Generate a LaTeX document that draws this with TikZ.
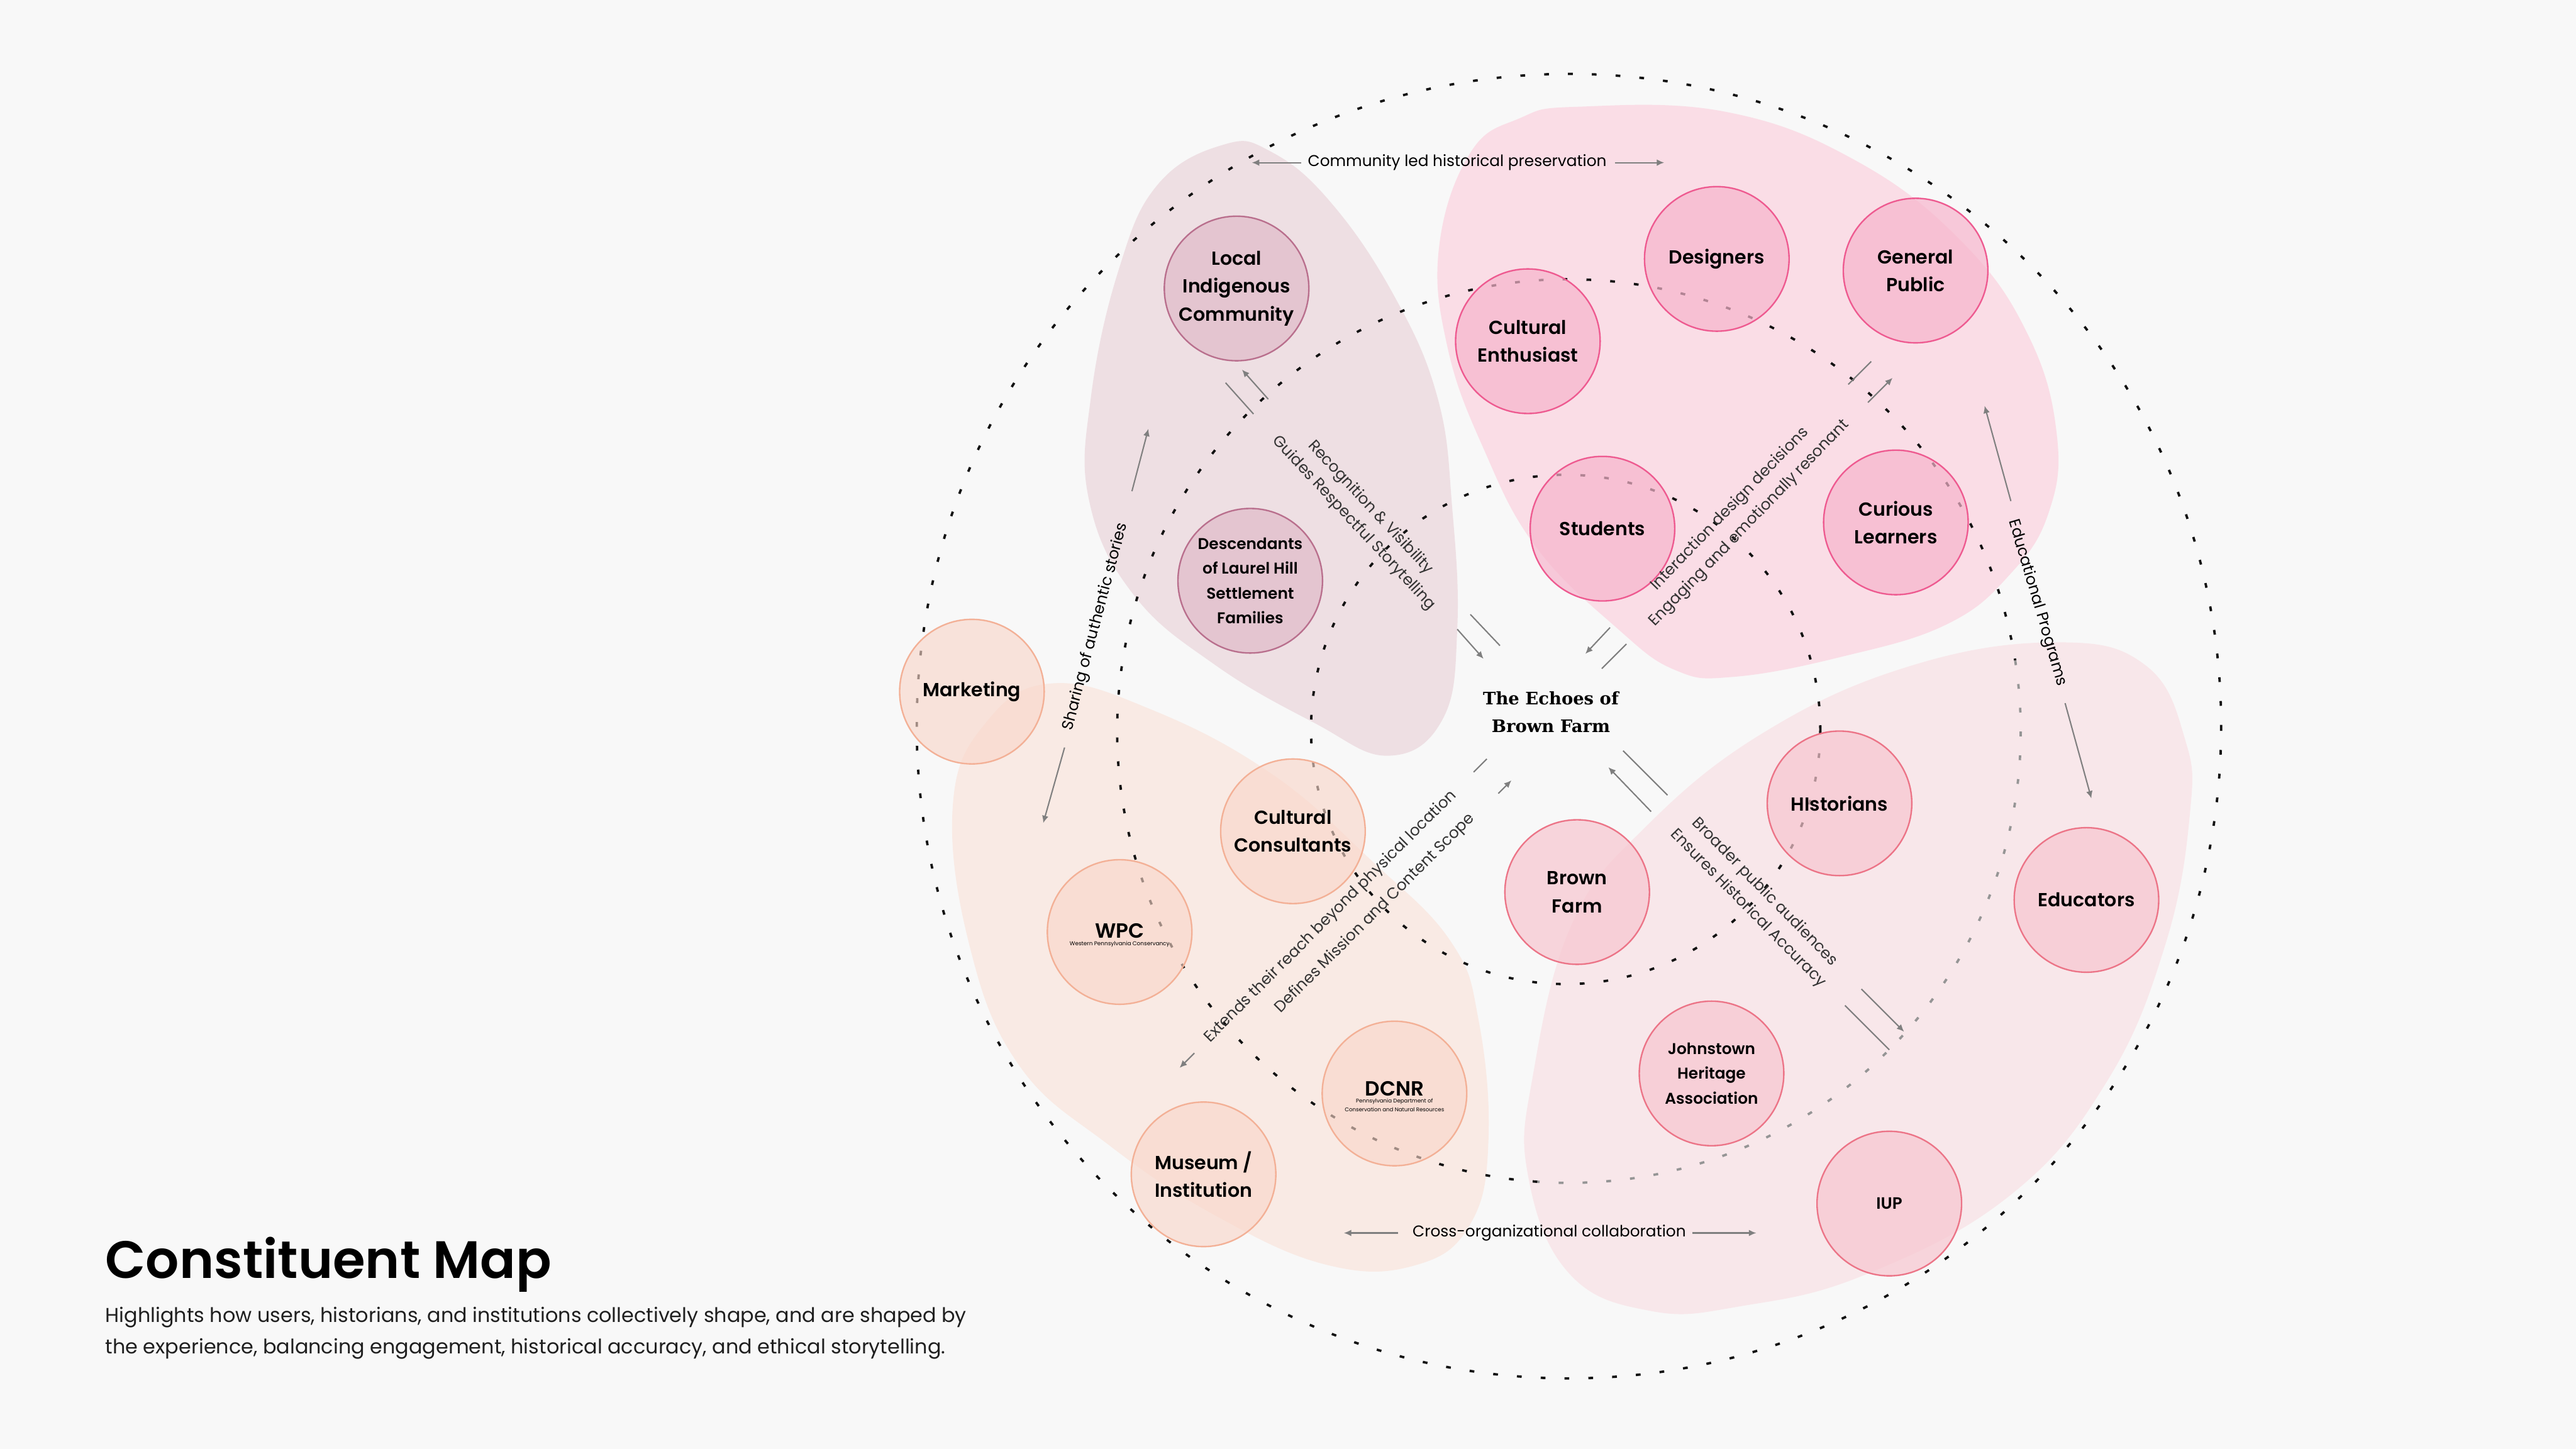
\documentclass[tikz,border=0pt]{standalone}
\usepackage{fontspec}
\setmainfont{Poppins}[BoldFont={Poppins SemiBold}]
\newfontfamily\echofont{DejaVu Serif}
\usetikzlibrary{arrows.meta}
\definecolor{bg}{HTML}{F8F8F8}
\definecolor{blobMauve}{HTML}{EEDFE3}
\definecolor{blobPink}{HTML}{FADDE6}
\definecolor{blobPeach}{HTML}{F9EAE4}
\definecolor{blobRose}{HTML}{F8E7EA}
\definecolor{mauveFill}{HTML}{E1BBC8}
\definecolor{mauveDraw}{HTML}{B96F8D}
\definecolor{pinkFill}{HTML}{F7B5CC}
\definecolor{pinkDraw}{HTML}{EE5A90}
\definecolor{peachFill}{HTML}{F9D6C9}
\definecolor{peachDraw}{HTML}{F3B096}
\definecolor{roseFill}{HTML}{F7C6CF}
\definecolor{roseDraw}{HTML}{EC7487}
\definecolor{arrowGray}{HTML}{7F7F7F}
\definecolor{labelGray}{HTML}{333333}
\definecolor{dotBlack}{HTML}{111111}
\definecolor{dotGray}{HTML}{959595}
\tikzset{
  dotring/.style={draw=dotBlack, line width=1.45pt, dash pattern=on 2.9pt off 11.6pt},
  dotringgray/.style={dotring, draw=dotGray},
  cnode/.style={circle, minimum size=88pt, inner sep=0pt, line width=0.9pt, fill opacity=0.7, draw opacity=1, text opacity=1, align=center, text=black, font=\fontsize{11.5}{17}\selectfont\bfseries},
  mauvec/.style={cnode, fill=mauveFill, draw=mauveDraw},
  pinkc/.style={cnode, fill=pinkFill, draw=pinkDraw},
  peachc/.style={cnode, fill=peachFill, draw=peachDraw, fill opacity=0.62},
  rosec/.style={cnode, fill=roseFill, draw=roseDraw},
  smalltext/.style={font=\fontsize{9.5}{15}\selectfont\bfseries},
  elabel/.style={inner sep=0pt, text=labelGray, font=\fontsize{9.5}{11}\selectfont},
  conn/.style={draw=arrowGray, line width=0.8pt},
  arr/.style={conn, -{Latex[length=4.5pt,width=4pt]}},
}
\begin{document}
\begin{tikzpicture}[x=1pt,y=-1pt]
\fill[bg] (0,0) rectangle (1568,882);
\useasboundingbox (0,0) rectangle (1568,882);

% ---------- blobs ----------
\fill[blobMauve] plot[smooth cycle, tension=0.7] coordinates {
 (745,88) (773,92) (809,122) (848,179) (875,242) (884,310) (887,383) (878,438) (845,460)
 (800,440) (740,405) (690,362) (663,305) (664,242) (681,164) (705,112)};
\fill[blobPink] plot[smooth cycle, tension=0.7] coordinates {
 (960,65) (1050,68) (1130,98) (1195,148) (1235,205) (1252,265) (1247,312) (1224,349)
 (1185,380) (1120,400) (1055,412) (1020,408) (985,383) (935,333) (903,273) (881,211)
 (876,150) (895,93) (925,72)};
\fill[blobPeach] plot[smooth cycle, tension=0.7] coordinates {
 (640,416) (701,432) (774,471) (835,524) (883,573) (900,621) (906,694) (895,745) (862,770)
 (808,770) (740,740) (675,697) (620,648) (590,575) (580,490) (600,440)};
\fill[blobRose] plot[smooth cycle, tension=0.7] coordinates {
 (1252,391) (1306,405) (1330,450) (1333,495) (1318,575) (1282,659) (1223,728) (1135,776)
 (1060,795) (1005,798) (955,775) (930,715) (933,655) (957,562) (1002,503) (1075,445)
 (1164,405)};

% ---------- dotted rings ----------
\draw[dotring] (955,442) circle[radius=397];
\draw[dotring] (955,445) ++(94:275) arc[start angle=94, end angle=351, radius=275];
\draw[dotringgray] (955,445) ++(-9:275) arc[start angle=-9, end angle=94, radius=275];
\draw[dotring] (953,444) circle[radius=155];

% ---------- constituent circles ----------
\node[mauvec] (lic) at (752.7,175.6) {Local\\Indigenous\\Community};
\node[mauvec, smalltext] (dlh) at (761,353.5) {Descendants\\of Laurel Hill\\Settlement\\Families};

\node[pinkc] (des) at (1045,157.6) {Designers};
\node[pinkc] (gp) at (1166,164.7) {General\\Public};
\node[pinkc] (ce) at (930,207.7) {Cultural\\Enthusiast};
\node[pinkc] (stu) at (975.4,321.8) {Students};
\node[pinkc] (cl) at (1154,318) {Curious\\Learners};

\node[peachc] (mkt) at (591.6,421) {Marketing};
\node[peachc] (cc) at (787,506) {Cultural\\Consultants};
\node[peachc] (wpc) at (681.5,567.3) {};
\node[peachc] (dcnr) at (848.8,665.6) {};
\node[peachc] (mus) at (732.6,714.8) {Museum /\\Institution};

\node[rosec] (his) at (1119.7,489) {HIstorians};
\node[rosec] (bf) at (960,543) {Brown\\Farm};
\node[rosec] (edu) at (1270,547.8) {Educators};
\node[rosec, smalltext] (jha) at (1041.8,653.4) {Johnstown\\Heritage\\Association};
\node[rosec, font=\fontsize{10}{12}\selectfont\bfseries] (iup) at (1150,732.6) {IUP};

\node[inner sep=0pt, font=\fontsize{12.5}{13}\selectfont\bfseries] (wpct) at (681.5,566.5) {WPC};
\node[inner sep=0pt, font=\fontsize{3.4}{4}\selectfont] (wpcs) at (681.5,574.7) {Western Pennsylvania Conservancy};
\node[inner sep=0pt, font=\fontsize{12.5}{13}\selectfont\bfseries] (dcnrt) at (848.8,662.6) {DCNR};
\node[inner sep=0pt, font=\fontsize{3.3}{4}\selectfont] (dcnrs1) at (848.8,670.4) {Pennsylvania Department of};
\node[inner sep=0pt, font=\fontsize{3.3}{4}\selectfont] (dcnrs2) at (848.8,675.3) {Conservation and Natural Resources};

% ---------- centre ----------
\node[align=center, font=\echofont\bfseries\fontsize{10.5}{17}\selectfont] (echo) at (944,433.5) {The Echoes of\\Brown Farm};

% ---------- edge labels ----------
\node[elabel, text=black] (lblA) at (887,99) {Community led historical preservation};
\coordinate (a1s) at (792,99); \coordinate (a1e) at (762,99);
\coordinate (a2s) at (983,99); \coordinate (a2e) at (1013,99);
\draw[arr] (a1s) -- (a1e);
\draw[arr] (a2s) -- (a2e);

\node[elabel, text=black] (lblB) at (943,750.5) {Cross-organizational collaboration};
\coordinate (b1s) at (851,750.5); \coordinate (b1e) at (818,750.5);
\coordinate (b2s) at (1030,750.5); \coordinate (b2e) at (1069,750.5);
\draw[arr] (b1s) -- (b1e);
\draw[arr] (b2s) -- (b2e);

\node[elabel, text=black, rotate=75] (lblC) at (667,381.5) {Sharing of authentic stories};
\coordinate (c1s) at (689,299); \coordinate (c1e) at (699,261);
\coordinate (c2s) at (648,455); \coordinate (c2e) at (635,501);
\draw[arr] (c1s) -- (c1e);
\draw[arr] (c2s) -- (c2e);

\node[elabel, rotate=-47] (lblD1) at (834,309) {Recognition \& Visibility};
\node[elabel, rotate=-47] (lblD2) at (824,318.5) {Guides Respectful Storytelling};
\coordinate (d1s) at (746,233); \coordinate (d1e) at (763,252);
\coordinate (d2s) at (772,243); \coordinate (d2e) at (756,225);
\coordinate (d3s) at (895,374); \coordinate (d3e) at (913,393);
\coordinate (d4s) at (887,383); \coordinate (d4e) at (903,401);
\draw[conn] (d1s) -- (d1e);
\draw[arr] (d2s) -- (d2e);
\draw[conn] (d3s) -- (d3e);
\draw[arr] (d4s) -- (d4e);

\node[elabel, rotate=46] (lblE1) at (1053,310) {Interaction design decisions};
\node[elabel, rotate=46] (lblE2) at (1065,318.5) {Engaging and emotionally resonant};
\coordinate (e1s) at (980,382); \coordinate (e1e) at (965,398);
\coordinate (e2s) at (990,392); \coordinate (e2e) at (975,407);
\coordinate (e3s) at (1139,220); \coordinate (e3e) at (1125,234);
\coordinate (e4s) at (1137,245); \coordinate (e4e) at (1152,230);
\draw[arr] (e1s) -- (e1e);
\draw[conn] (e2s) -- (e2e);
\draw[conn] (e3s) -- (e3e);
\draw[arr] (e4s) -- (e4e);

\node[elabel, rotate=45] (lblF1) at (810,558) {Extends their reach beyond physical location};
\node[elabel, rotate=45] (lblF2) at (837,556) {Defines Mission and Content Scope};
\coordinate (f1s) at (905,462); \coordinate (f1e) at (897,470);
\coordinate (f2s) at (912,483); \coordinate (f2e) at (920,475);
\coordinate (f3s) at (727,641); \coordinate (f3e) at (718,650);
\draw[conn] (f1s) -- (f1e);
\draw[arr] (f2s) -- (f2e);
\draw[arr] (f3s) -- (f3e);

\node[elabel, rotate=-45.5] (lblG1) at (1074,543) {Broader public audiences};
\node[elabel, rotate=-45.5] (lblG2) at (1064,553) {Ensures Historical Accuracy};
\coordinate (g1s) at (988,457); \coordinate (g1e) at (1015,484);
\coordinate (g2s) at (1005,494); \coordinate (g2e) at (979,467);
\coordinate (g3s) at (1123,612); \coordinate (g3e) at (1150,639);
\coordinate (g4s) at (1133,602); \coordinate (g4e) at (1159,628);
\draw[conn] (g1s) -- (g1e);
\draw[arr] (g2s) -- (g2e);
\draw[conn] (g3s) -- (g3e);
\draw[arr] (g4s) -- (g4e);

\node[elabel, text=black, rotate=-73.5] (lblH) at (1240,367) {Educational Programs};
\coordinate (h1s) at (1224,305); \coordinate (h1e) at (1208,247);
\coordinate (h2s) at (1257,428); \coordinate (h2e) at (1273,486);
\draw[arr] (h1s) -- (h1e);
\draw[arr] (h2s) -- (h2e);

% ---------- title ----------
\node[anchor=base west, inner sep=0pt, font=\fontsize{32}{38}\selectfont\bfseries] (title) at (64,778) {Constituent Map};
\node[anchor=base west, inner sep=0pt, text=black!88, font=\fontsize{12.2}{14}\selectfont] (sub1) at (64,805) {Highlights how users, historians, and institutions collectively shape, and are shaped by};
\node[anchor=base west, inner sep=0pt, text=black!88, font=\fontsize{12.2}{14}\selectfont] (sub2) at (64,824) {the experience, balancing engagement, historical accuracy, and ethical storytelling.};
\end{tikzpicture}
\end{document}
